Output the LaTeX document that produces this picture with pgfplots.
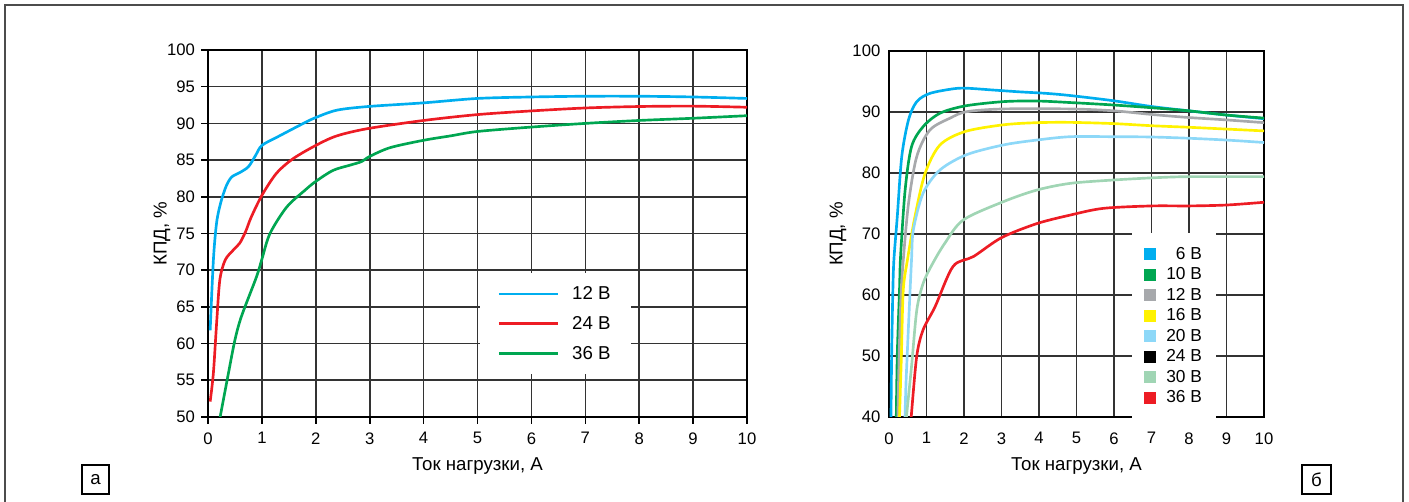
\documentclass[border=0pt]{standalone}
\usepackage{fontspec}
\setmainfont{Liberation Sans}
\usepackage{pgfplots}
\pgfplotsset{compat=1.18}
\definecolor{cC}{RGB}{0,174,239}
\definecolor{rC}{RGB}{237,28,36}
\definecolor{gC}{RGB}{0,166,81}
\definecolor{grC}{RGB}{167,169,172}
\definecolor{yC}{RGB}{255,242,0}
\definecolor{lbC}{RGB}{141,216,248}
\definecolor{lgC}{RGB}{160,213,180}
\pgfplotsset{
  common/.style={
    scale only axis, enlargelimits=false,
    xmin=0, xmax=10, xtick={0,1,...,10},
    /pgf/number format/assume math mode=true,
    ticklabel style={font=\fontsize{12.5}{14}\selectfont},
    label style={font=\fontsize{14}{16}\selectfont},
    grid=major,
    major grid style={black!80, line width=1.2pt},
    axis line style={black, line width=1.6pt},
    xlabel={Ток нагрузки, А},
    ylabel={КПД, \%},
    clip mode=global,
  },
}
\begin{document}
\begin{tikzpicture}
\useasboundingbox (0pt,0pt) rectangle (1056.75pt,376.5pt);
\draw[black!70, line width=1.1pt] (3.75pt,-6pt) -- (3.75pt,372.75pt) -- (1052.25pt,372.75pt) -- (1052.25pt,-6pt);
\draw[black, line width=0.9pt] (61.5pt,6pt) rectangle (81.75pt,27.75pt);
\node[font=\fontsize{14}{16}\selectfont] at (71.6pt,16.9pt) {а};
\draw[black, line width=0.9pt] (976.5pt,6pt) rectangle (998.25pt,27.75pt);
\node[font=\fontsize{14}{16}\selectfont] at (987.4pt,16.9pt) {б};

\begin{axis}[common,
  at={(156pt,63.75pt)}, anchor=south west,
  width=404.25pt, height=275.25pt,
  ymin=50, ymax=100, ytick={50,55,...,100},
  tick align=outside, major tick length=5pt,
  tick style={black, line width=1.2pt},
  xtick pos=left, ytick pos=left,
  xticklabel style={yshift=-3pt},
  yticklabel style={xshift=-1.3pt},
  xlabel style={at={(axis description cs:0.5,-0.1335)}, anchor=center},
  ylabel style={at={(axis description cs:-0.0853,0.5)}, anchor=center},
  legend style={at={(axis description cs:0.5046,0.3924)}, anchor=north west,
    draw=none, fill=white, font=\fontsize{14}{16}\selectfont,
    inner xsep=13pt, inner ysep=8pt, row sep=7pt,
    nodes={inner sep=2pt},
    /tikz/every odd column/.append style={column sep=8pt}},
  legend cell align=left,
  legend image code/.code={\draw[#1] (0pt,0pt) -- (44pt,0pt);},
  every axis plot/.append style={line width=2pt, smooth, tension=0.5},
]
\addplot[cC] coordinates {(0.04,61.8) (0.1,71.4) (0.16,76.5) (0.24,79.3) (0.34,81.5) (0.44,82.7) (0.59,83.3) (0.75,84.1) (0.88,85.6) (1.0,87.0) (1.3,88.2) (1.77,90.0) (2.0,90.8) (2.39,91.8) (2.97,92.3) (4.0,92.8) (5.0,93.4) (6.0,93.6) (7.0,93.7) (8.0,93.7) (9.0,93.6) (10.0,93.4)};
\addlegendentry{12 В}
\addplot[rC] coordinates {(0.04,52.1) (0.1,56) (0.16,62.8) (0.22,68.7) (0.32,71.4) (0.47,72.75) (0.59,73.7) (0.7,75.3) (0.8,77.2) (1.0,80.2) (1.27,83.2) (1.58,85.2) (2.0,87.0) (2.39,88.3) (2.97,89.3) (4.0,90.4) (5.0,91.2) (6.0,91.7) (7.0,92.1) (8.0,92.3) (9.0,92.35) (10.0,92.2)};
\addlegendentry{24 В}
\addplot[gC] coordinates {(0.22,49.8) (0.38,56) (0.5,60.5) (0.62,63.7) (0.9,69.1) (1.0,71.5) (1.15,75.0) (1.46,78.6) (1.8,80.9) (2.0,82.1) (2.32,83.6) (2.63,84.3) (2.85,84.8) (3.0,85.5) (3.38,86.7) (4.0,87.7) (4.5,88.3) (5.0,88.9) (6.0,89.5) (7.0,90.0) (8.0,90.4) (9.0,90.7) (10.0,91.05)};
\addlegendentry{36 В}
\end{axis}

\begin{axis}[common,
  at={(666.75pt,63.75pt)}, anchor=south west,
  width=281.25pt, height=274.5pt,
  ymin=40, ymax=100, ytick={40,50,...,100},
  major tick length=0pt,
  xticklabel style={yshift=-8pt},
  yticklabel style={xshift=-3pt},
  xlabel style={at={(axis description cs:0.5,-0.1335)}, anchor=center},
  ylabel style={at={(axis description cs:-0.136,0.5)}, anchor=center},
  clip mode=individual,
  legend style={at={(axis description cs:0.648,0.5027)}, anchor=north west,
    draw=none, fill=white, font=\fontsize{13}{15}\selectfont,
    inner xsep=9pt, inner ysep=9pt, row sep=1.8pt,
    nodes={inner sep=1.5pt},
    /tikz/every odd column/.append style={column sep=6pt}},
  legend cell align=right,
  legend image code/.code={\fill[#1] (0pt,-3.5pt) rectangle (7pt,3.5pt);},
  every axis plot/.append style={line width=2pt, smooth, tension=0.5},
]
\addplot[cC] coordinates {(0.05,38) (0.07,50) (0.1,60) (0.13,65.7) (0.22,72.8) (0.34,82.7) (0.52,88.7) (0.74,91.7) (1.09,93.05) (1.71,93.8) (2.07,93.9) (2.78,93.6) (3.49,93.3) (4.2,93.05) (4.83,92.7) (5.98,91.85) (7.0,90.9) (7.98,90.2) (9.0,89.5) (10.0,88.9)};
\addlegendentry{6 В}
\addplot[gC] coordinates {(0.19,38) (0.22,50) (0.28,60.8) (0.31,66.5) (0.43,77.2) (0.6,84.3) (0.91,87.6) (1.36,89.8) (2.03,91.0) (3.05,91.7) (3.94,91.8) (4.83,91.55) (5.98,91.15) (7.0,90.7) (7.98,90.2) (9.0,89.5) (10.0,89.0)};
\addlegendentry{10 В}
\addplot[grC] coordinates {(0.23,38) (0.27,50) (0.32,60) (0.38,65.7) (0.52,75) (0.74,82.7) (1.09,87.05) (1.63,89.0) (2.07,90.05) (3.05,90.5) (4.83,90.5) (5.98,90.2) (7.0,89.6) (7.98,89.1) (9.0,88.7) (10.0,88.25)};
\addlegendentry{12 В}
\addplot[yC] coordinates {(0.27,38) (0.33,50) (0.38,60.8) (0.49,65.7) (0.69,72.8) (0.96,79.9) (1.36,84.6) (2.03,86.8) (3.05,87.9) (3.94,88.25) (4.83,88.3) (5.98,88.1) (7.0,87.75) (7.98,87.5) (9.0,87.2) (10.0,86.9)};
\addlegendentry{16 В}
\addplot[lbC] coordinates {(0.42,38) (0.45,45) (0.52,55) (0.6,65.7) (0.65,70.7) (0.91,76.7) (1.36,80.5) (2.07,83.0) (3.05,84.6) (3.94,85.4) (4.83,85.95) (5.98,85.95) (7.0,85.9) (7.98,85.7) (9.0,85.4) (10.0,85.0)};
\addlegendentry{20 В}
\addlegendimage{black}
\addlegendentry{24 В}
\addplot[lgC] coordinates {(0.43,38) (0.6,48.25) (0.74,57.5) (0.91,61.9) (1.14,64.9) (1.49,68.5) (1.98,72.3) (3.05,75.3) (3.94,77.2) (4.83,78.3) (5.98,78.85) (7.0,79.2) (7.98,79.4) (10.0,79.4)};
\addlegendentry{30 В}
\addplot[rC] coordinates {(0.57,38) (0.6,40.6) (0.74,50.0) (0.91,54.3) (1.23,58.1) (1.71,64.7) (2.25,66.3) (3.0,69.4) (3.94,71.7) (4.83,73.1) (5.71,74.2) (7.0,74.6) (8.0,74.6) (9.0,74.75) (10.0,75.2)};
\addlegendentry{36 В}
\end{axis}
\end{tikzpicture}
\end{document}
